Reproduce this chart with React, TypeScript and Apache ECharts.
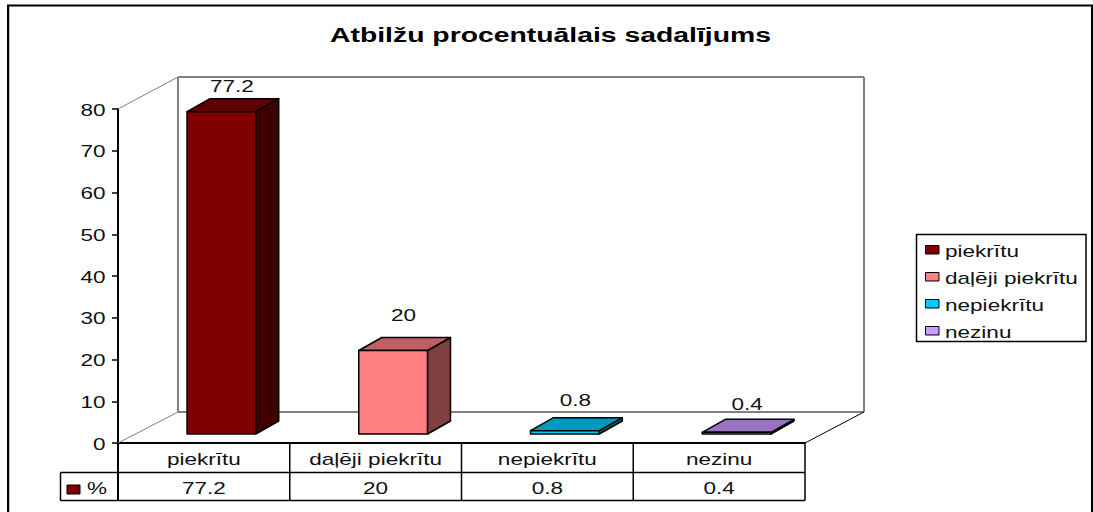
import React, { useEffect, useRef } from "react";
import * as echarts from "echarts";

const titleText = "Atbilžu procentuālais sadalījums";
const categories = ["piekrītu", "daļēji piekrītu", "nepiekrītu", "nezinu"];
const values = [77.2, 20, 0.8, 0.4];
const valueLabels = ["77.2", "20", "0.8", "0.4"];
const yTicks = [0, 10, 20, 30, 40, 50, 60, 70, 80];
const tableKey = "%";
const frontColors = ["#800000", "#FF8080", "#00CCFF", "#CC99FF"];
const topColors = ["#600000", "#BF6060", "#0099BF", "#9973BF"];
const sideColors = ["#400000", "#804040", "#006680", "#664D80"];

const FONT = "Liberation Sans, Arial, sans-serif";
const TEXT = "#111";
const WALL = "#808080";
const STRETCH = 1.41;
const TITLE_STRETCH = 1.35;
const DX = 60;
const DY = 32;
const FLOOR_DY = 31;
const SHIFT_X = 17.5;
const SHIFT_Y = 9;
const DEPTH_X = 23;
const DEPTH_Y = 13;
const LABEL_GAP = [12.5, 22.5, 18, 15.5];

function label(text: string, x: number, y: number, align = "center", size = 16, weight = "normal", stretch = STRETCH) {
  return {
    type: "text",
    x,
    y: y + 1,
    scaleX: stretch,
    silent: true,
    style: {
      x: 0,
      y: 0,
      text,
      font: `${weight} ${size}px ${FONT}`,
      fill: weight === "bold" ? "#000" : TEXT,
      align,
      verticalAlign: "middle",
    },
  };
}

function barItem(index: number) {
  return (_p: any, api: any) => {
    const band = api.size([1, 0])[0];
    const w = band / 2.5;
    const top = api.coord([api.value(0), api.value(1)]);
    const base = api.coord([api.value(0), 0]);
    const x0 = top[0] - w / 2 + SHIFT_X;
    const x1 = x0 + w;
    const yT = top[1] - SHIFT_Y;
    const yB = base[1] - SHIFT_Y;
    const ox = DEPTH_X;
    const oy = DEPTH_Y;
    const poly = (points: number[][], fill: string) => ({
      type: "polygon",
      shape: { points },
      style: { fill, stroke: "#000", lineWidth: 1.5, lineJoin: "round" },
    });
    return {
      type: "group",
      children: [
        poly([[x1, yT], [x1 + ox, yT - oy], [x1 + ox, yB - oy], [x1, yB]], sideColors[index]),
        poly([[x0, yT], [x0 + ox, yT - oy], [x1 + ox, yT - oy], [x1, yT]], topColors[index]),
        poly([[x0, yT], [x1, yT], [x1, yB], [x0, yB]], frontColors[index]),
        label(valueLabels[index], (x0 + x1 + ox) / 2 - 1, yT - oy - LABEL_GAP[index] - 0.5),
      ],
    };
  };
}

function wallsItem(_p: any, api: any) {
  const band = api.size([1, 0])[0];
  const first = api.coord([0, 0]);
  const tl = [first[0] - band / 2, api.coord([0, 80])[1]];
  const bl = [first[0] - band / 2, first[1]];
  const br = [bl[0] + band * 4, bl[1]];
  const line = (a: number[], b: number[], stroke: string, lineWidth: number) => ({
    type: "line",
    shape: { x1: a[0], y1: a[1], x2: b[0], y2: b[1] },
    style: { stroke, lineWidth },
  });
  const wallBL = [bl[0] + DX, bl[1] - FLOOR_DY];
  const wallTL = [tl[0] + DX, tl[1] - DY];
  const wallBR = [br[0] + DX - 1, br[1] - FLOOR_DY];
  const wallTR = [wallBR[0], wallTL[1]];
  return {
    type: "group",
    children: [
      line(tl, wallTL, WALL, 1),
      line(bl, wallBL, WALL, 1),
      line(wallTL, wallBL, WALL, 2),
      line(wallTL, wallTR, WALL, 2),
      line(wallTR, wallBR, WALL, 2),
      line(wallBL, wallBR, WALL, 2),
      line(br, wallBR, "#000", 1),
    ],
  };
}

function tableItem(_p: any, api: any) {
  const band = api.size([1, 0])[0];
  const first = api.coord([0, 0]);
  const axisX = first[0] - band / 2;
  const axisY = first[1];
  const rowA = axisY + 29.5;
  const rowB = axisY + 57.5;
  const left = 60.5;
  const right = axisX + band * 4;
  const line = (x1: number, y1: number, x2: number, y2: number, lineWidth = 1.5) => ({
    type: "line",
    shape: { x1, y1, x2, y2 },
    style: { stroke: "#000", lineWidth },
  });
  const children: any[] = [
    line(left, rowA, right, rowA),
    line(left, rowB, right, rowB),
    line(left, rowA, left, rowB),
    line(axisX, axisY, axisX, rowB, 2),
    {
      type: "rect",
      shape: { x: 67, y: rowA + 12.5, width: 13, height: 9 },
      style: { fill: frontColors[0], stroke: "#000", lineWidth: 1 },
    },
    label(tableKey, 97, rowA + 15),
  ];
  categories.forEach((name, i) => {
    const edge = axisX + band * (i + 1);
    const mid = edge - band / 2;
    children.push(line(edge, axisY, edge, rowB));
    children.push(label(name, mid, axisY + 15));
    children.push(label(valueLabels[i], mid, rowA + 15));
  });
  yTicks.forEach((t) => {
    children.push(label(String(t), axisX - 12.5, api.coord([0, t])[1], "right"));
  });
  return { type: "group", children };
}

const legendChildren = () => {
  const kids: any[] = [
    {
      type: "rect",
      shape: { x: 916.5, y: 234.5, width: 169.5, height: 107 },
      style: { fill: "#fff", stroke: "#000", lineWidth: 1.5 },
    },
  ];
  categories.forEach((name, i) => {
    const y = 250 + 27 * i;
    kids.push({
      type: "rect",
      shape: { x: 925.5, y: y - 4.5, width: 13.5, height: 8.5 },
      style: { fill: frontColors[i], stroke: "#000", lineWidth: 1 },
    });
    kids.push(label(name, 945, y, "left"));
  });
  return kids;
};

export default function App() {
  const ref = useRef<HTMLDivElement>(null);
  useEffect(() => {
    const chart = echarts.init(ref.current!, null, { renderer: "svg" });
    chart.setOption({
      animation: false,
      backgroundColor: "#fff",
      grid: { left: 118, top: 109, width: 687, height: 334, containLabel: false },
      xAxis: {
        type: "category",
        data: categories,
        axisLine: { lineStyle: { color: "#000", width: 2 } },
        axisTick: { show: false },
        axisLabel: { show: false },
      },
      yAxis: {
        type: "value",
        min: 0,
        max: 80,
        interval: 10,
        splitLine: { show: false },
        axisLine: { show: true, lineStyle: { color: "#000", width: 2 } },
        axisTick: { show: true, length: 6, lineStyle: { color: "#000", width: 1.5 } },
        axisLabel: { show: false },
      },
      graphic: [
        {
          type: "rect",
          z: -1,
          silent: true,
          shape: { x: 8, y: 5.5, width: 1084, height: 520 },
          style: { fill: "#fff", stroke: "#000", lineWidth: 2 },
        },
        {
          type: "line",
          z: -1,
          silent: true,
          shape: { x1: 9.5, y1: 7, x2: 9.5, y2: 512 },
          style: { stroke: "#c8c8c8", lineWidth: 1 },
        },
        { type: "group", z: 5, silent: true, children: legendChildren() },
        { type: "group", z: 5, silent: true, children: [label(titleText, 550.5, 33.5, "center", 21, "bold", TITLE_STRETCH)] },
      ],
      series: [
        {
          type: "custom",
          name: "walls",
          z: 1,
          coordinateSystem: "cartesian2d",
          clip: false,
          silent: true,
          renderItem: wallsItem,
          data: [[0, 0]],
        },
        {
          type: "custom",
          name: "table",
          z: 1,
          coordinateSystem: "cartesian2d",
          clip: false,
          silent: true,
          renderItem: tableItem,
          data: [[0, 0]],
        },
        ...categories.map((name, i) => ({
          type: "custom",
          name,
          z: 3,
          coordinateSystem: "cartesian2d",
          clip: false,
          silent: true,
          renderItem: barItem(i),
          data: [[i, values[i]]],
        })),
      ],
    });
    return () => chart.dispose();
  }, []);
  return (
    <div
      ref={ref}
      style={{ position: "absolute", left: 0, top: 0, width: 1093, height: 512, overflow: "hidden" }}
    />
  );
}
